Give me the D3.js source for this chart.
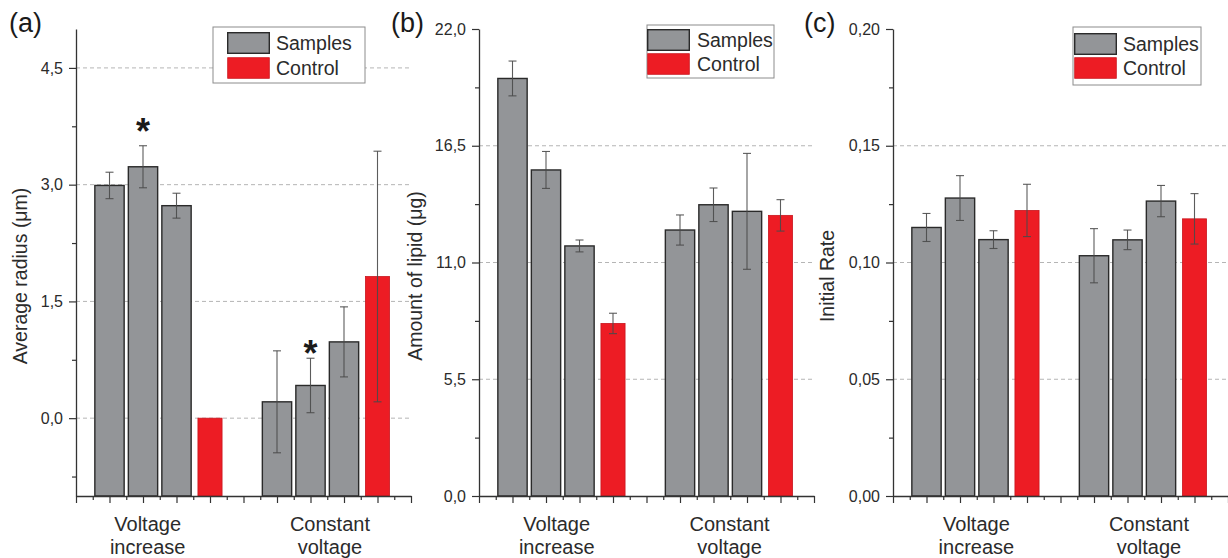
<!DOCTYPE html>
<html>
<head>
<meta charset="utf-8">
<script src="https://cdn.jsdelivr.net/npm/d3@7"></script>
<style>
  body { margin: 0; background: #fff; }
  svg { display: block; font-family: "Liberation Sans", Arial, Helvetica, sans-serif; }
</style>
</head>
<body>
<svg id="chart" width="1228" height="558"></svg>
<script>
'use strict';

// ---- data ----
var categories = [["Voltage", "increase"], ["Constant", "voltage"]];
var seriesNames = ["Samples", "Control"];
var panelLabels = ["(a)", "(b)", "(c)"];
var axisTitles = ["Average radius (\u03bcm)", "Amount of lipid (\u03bcg)", "Initial Rate"];

var radiusTicks = [0, 1.5, 3.0, 4.5];
var lipidTicks = [0, 5.5, 11.0, 16.5, 22.0];
var rateTicks = [0, 0.05, 0.10, 0.15, 0.20];

// each group: 3 samples then control
var radiusMean = [[2.99, 3.23, 2.73, 0.0], [0.21, 0.42, 0.98, 1.82]];
var radiusErr  = [[0.17, 0.27, 0.16, 0], [0.655, 0.35, 0.45, 1.61]];
var radiusStars = [[null, 3.79, null, null], [null, 0.93, null, null]];

var lipidMean = [[19.67, 15.36, 11.78, 8.13], [12.53, 13.72, 13.41, 13.22]];
var lipidErr  = [[0.82, 0.87, 0.28, 0.48], [0.71, 0.79, 2.73, 0.74]];

var rateMean = [[0.115, 0.1276, 0.1098, 0.1223], [0.1029, 0.1097, 0.1263, 0.1187]];
var rateErr  = [[0.006, 0.0096, 0.0038, 0.0112], [0.0116, 0.0042, 0.0067, 0.0108]];

var svg = d3.select("#chart");
svg.append("rect").attr("width", 1228).attr("height", 558).attr("fill", "#fff");

var TOP = 29, BOTTOM = 496, SPAN = 335;
var textColor = "#2b2b2b";
var grayFill = "#939598", redFill = "#ed1c24";

function drawPanel(p) {
    var g = svg.append("g");
    var x = d3.scaleLinear().domain([0, 10]).range([p.left, p.left + SPAN]);
    var y = d3.scaleLinear().domain(p.domain).range([BOTTOM, TOP]);
    var step = x(1) - x(0);
    var fmt = function(v) { return d3.format(p.fmt)(v).replace(".", ","); };

    // dashed grid at major ticks inside the plot
    var grid = p.ticks.filter(function(v) { return v > p.domain[0] && v < p.domain[1]; });
    g.append("g").selectAll("line")
        .data(grid)
        .enter().append("line")
        .attr("x1", x(0)).attr("x2", x(10))
        .attr("y1", function(d) { return y(d); })
        .attr("y2", function(d) { return y(d); })
        .attr("stroke", "#b5b5b5")
        .attr("stroke-width", 1)
        .attr("stroke-dasharray", "4,3");

    // flatten groups into bars
    var bars = [];
    p.mean.forEach(function(group, gi) {
        group.forEach(function(v, bi) {
            bars.push({
                pos: gi * 5 + bi + 1,
                value: v,
                err: p.err[gi][bi],
                star: p.stars ? p.stars[gi][bi] : null,
                control: bi === group.length - 1
            });
        });
    });

    g.append("g").selectAll("rect")
        .data(bars)
        .enter().append("rect")
        .attr("x", function(d) { return x(d.pos) - step * (d.control ? 0.36 : 0.4375); })
        .attr("width", function(d) { return step * (d.control ? 0.72 : 0.875); })
        .attr("y", function(d) { return y(d.value); })
        .attr("height", function(d) { return y(p.domain[0]) - y(d.value); })
        .attr("fill", function(d) { return d.control ? redFill : grayFill; })
        .attr("stroke", function(d) { return d.control ? "#c9161e" : "#2a2a2a"; })
        .attr("stroke-width", function(d) { return d.control ? 0.8 : 1.4; });

    // error bars
    var eb = g.append("g").selectAll("g")
        .data(bars.filter(function(d) { return d.err > 0; }))
        .enter().append("g")
        .attr("stroke", "#4a4a4a")
        .attr("stroke-width", 1.1)
        .attr("stroke-opacity", 0.9);
    eb.append("line")
        .attr("x1", function(d) { return x(d.pos); })
        .attr("x2", function(d) { return x(d.pos); })
        .attr("y1", function(d) { return y(d.value - d.err); })
        .attr("y2", function(d) { return y(d.value + d.err); });
    [1, -1].forEach(function(s) {
        eb.append("line")
            .attr("x1", function(d) { return x(d.pos) - 4; })
            .attr("x2", function(d) { return x(d.pos) + 4; })
            .attr("y1", function(d) { return y(d.value + s * d.err); })
            .attr("y2", function(d) { return y(d.value + s * d.err); });
    });

    // significance stars
    g.append("g").selectAll("text")
        .data(bars.filter(function(d) { return d.star !== null; }))
        .enter().append("text")
        .attr("x", function(d) { return x(d.pos); })
        .attr("y", function(d) { return y(d.star); })
        .attr("dy", "0.57em")
        .attr("text-anchor", "middle")
        .attr("font-size", 36)
        .attr("font-weight", "bold")
        .attr("fill", "#1a1a1a")
        .text("*");

    // y axis, major + minor
    var ystep = p.ticks[1] - p.ticks[0];
    var minors = d3.range(-40, 40).map(function(k) { return (k + 0.5) * ystep; })
        .filter(function(v) { return v > p.domain[0] && v < p.domain[1]; });

    var yAxis = g.append("g")
        .attr("transform", "translate(" + p.left + ",0)")
        .call(d3.axisLeft(y).tickValues(p.ticks).tickSize(7).tickSizeOuter(0)
            .tickPadding(6).tickFormat(fmt));
    yAxis.select(".domain").attr("stroke", "#333").attr("stroke-width", 1.3);
    yAxis.selectAll(".tick line").attr("stroke", "#333").attr("stroke-width", 1.2);
    yAxis.selectAll(".tick text")
        .attr("font-size", 16)
        .attr("font-family", "Liberation Sans, Arial, sans-serif")
        .attr("fill", textColor);

    var yMinor = g.append("g")
        .attr("transform", "translate(" + p.left + ",0)")
        .call(d3.axisLeft(y).tickValues(minors).tickSize(4).tickFormat(""));
    yMinor.select(".domain").remove();
    yMinor.selectAll(".tick line").attr("stroke", "#333").attr("stroke-width", 1.2);

    // x axis with ticks every half position
    var xAxis = g.append("g")
        .attr("transform", "translate(0," + BOTTOM + ")")
        .call(d3.axisBottom(x).tickValues(d3.range(0, 10.01, 0.5))
            .tickSizeOuter(0).tickFormat(""));
    xAxis.select(".domain").attr("stroke", "#333").attr("stroke-width", 1.3);
    xAxis.selectAll(".tick line")
        .attr("y2", function(d) { return d % 1 === 0 ? 7 : 4; })
        .attr("stroke", "#333").attr("stroke-width", 1.2);

    // category labels
    var cat = g.append("g").selectAll("text")
        .data(categories)
        .enter().append("text")
        .attr("text-anchor", "middle")
        .attr("font-size", 20)
        .attr("fill", textColor);
    cat.append("tspan")
        .attr("x", function(d, i) { return x(p.catPos[i]); })
        .attr("y", 531)
        .text(function(d) { return d[0]; });
    cat.append("tspan")
        .attr("x", function(d, i) { return x(p.catPos[i]); })
        .attr("y", 554)
        .text(function(d) { return d[1]; });

    // axis title
    g.append("text")
        .attr("transform", "translate(" + p.titleX + ",276) rotate(-90)")
        .attr("dy", "0.35em")
        .attr("text-anchor", "middle")
        .attr("font-size", 19.5)
        .attr("fill", textColor)
        .text(p.title);

    // panel label
    g.append("text")
        .attr("x", p.labelX).attr("y", 32)
        .attr("font-size", 27)
        .attr("fill", "#1a1a1a")
        .text(p.label);

    // legend
    var L = p.legend;
    var lg = g.append("g");
    lg.append("rect")
        .attr("x", L.x).attr("y", L.y).attr("width", L.w).attr("height", L.h)
        .attr("fill", "#fff").attr("stroke", "#8c8c8c").attr("stroke-width", 1);
    var item = lg.selectAll(".item")
        .data(seriesNames)
        .enter().append("g");
    item.append("rect")
        .attr("x", L.sx + 0.7)
        .attr("y", function(d, i) { return L.sy[i] + 0.7; })
        .attr("width", 41.6).attr("height", 20.6)
        .attr("fill", function(d, i) { return i ? redFill : grayFill; })
        .attr("stroke", function(d, i) { return i ? "#c9161e" : "#2a2a2a"; })
        .attr("stroke-width", function(d, i) { return i ? 0.8 : 1.4; });
    item.append("text")
        .attr("x", L.tx)
        .attr("y", function(d, i) { return L.ty[i]; })
        .attr("font-size", 19.5)
        .attr("fill", textColor)
        .text(function(d) { return d; });
}

drawPanel({
    left: 76, domain: [-1, 5], ticks: radiusTicks, fmt: ".1f",
    mean: radiusMean, err: radiusErr, stars: radiusStars,
    catPos: [2.14, 7.58], title: axisTitles[0], titleX: 20,
    label: panelLabels[0], labelX: 9,
    legend: { x: 213, y: 27, w: 152, h: 56, sx: 227, sy: [32, 57], tx: 276, ty: [50, 75] }
});

drawPanel({
    left: 479, domain: [0, 22], ticks: lipidTicks, fmt: ".1f",
    mean: lipidMean, err: lipidErr, stars: null,
    catPos: [2.32, 7.48], title: axisTitles[1], titleX: 415,
    label: panelLabels[1], labelX: 391,
    legend: { x: 647, y: 25, w: 127, h: 53, sx: 647, sy: [29, 53], tx: 697, ty: [47, 71] }
});

drawPanel({
    left: 893, domain: [0, 0.2], ticks: rateTicks, fmt: ".2f",
    mean: rateMean, err: rateErr, stars: null,
    catPos: [2.49, 7.64], title: axisTitles[2], titleX: 827,
    label: panelLabels[2], labelX: 804,
    legend: { x: 1073, y: 27, w: 128, h: 58, sx: 1074, sy: [33, 57], tx: 1123, ty: [51, 75] }
});
</script>
</body>
</html>
